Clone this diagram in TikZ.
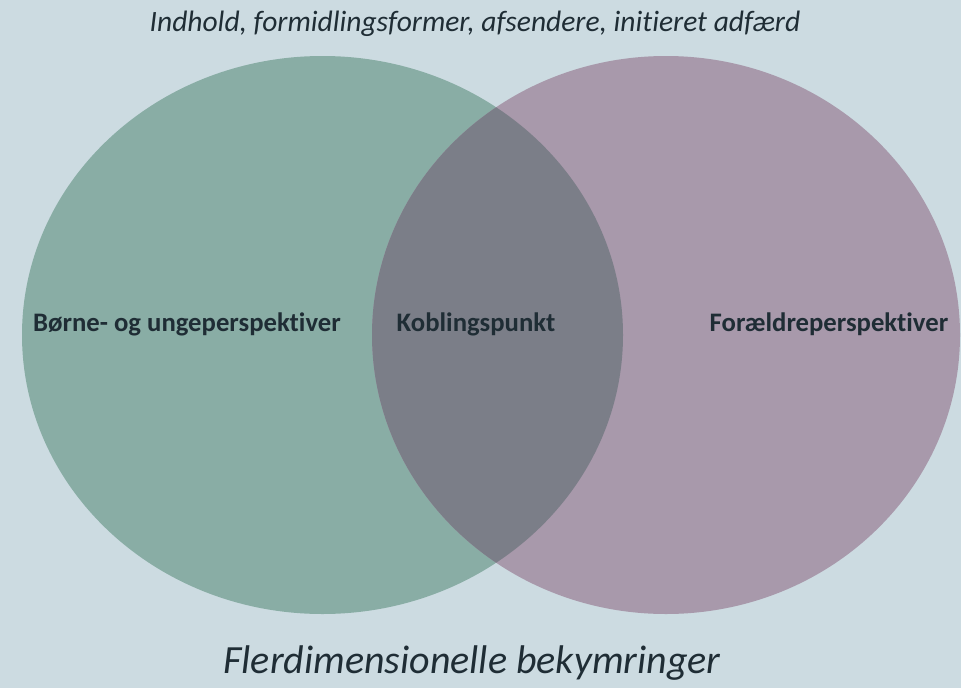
\documentclass[tikz,border=0pt]{standalone}
\usepackage{fontspec}
\setmainfont{Carlito}[Ligatures=NoCommon]
\definecolor{bg}{HTML}{CCDBE1}
\definecolor{lgreen}{HTML}{89ADA5}
\definecolor{rpurple}{HTML}{A899AB}
\definecolor{overlap}{HTML}{7B7E88}
\definecolor{txt}{HTML}{1F2D35}
\begin{document}
\begin{tikzpicture}[x=1pt,y=-1pt,
  lbl/.style={text=txt,font=\fontsize{26.7}{30}\selectfont\bfseries,inner sep=0pt},
  captxt/.style={text=txt,font=\fontsize{29.5}{34}\selectfont\itshape,inner sep=0pt}]
\fill[bg] (0,0) rectangle (961,688);
\useasboundingbox (0,0) rectangle (961,688);
\fill[lgreen] (322.5,335) ellipse [x radius=300.5, y radius=279];
\fill[rpurple] (666,335) ellipse [x radius=294, y radius=279];
\begin{scope}
  \clip (322.5,335) ellipse [x radius=300.5, y radius=279];
  \fill[overlap] (666,335) ellipse [x radius=294, y radius=279];
\end{scope}
\node[captxt] (title) at (475,24) {Indhold, formidlingsformer, afsendere, initieret adfærd};
\node[lbl] (left) at (187,324) {Børne- og ungeperspektiver};
\node[lbl] (mid) at (476,324) {Koblingspunkt};
\node[lbl] (right) at (829,324) {Forældreperspektiver};
\node[captxt,font=\fontsize{40}{46}\selectfont\itshape] (bottom) at (472,663) {Flerdimensionelle bekymringer};
\end{tikzpicture}
\end{document}
